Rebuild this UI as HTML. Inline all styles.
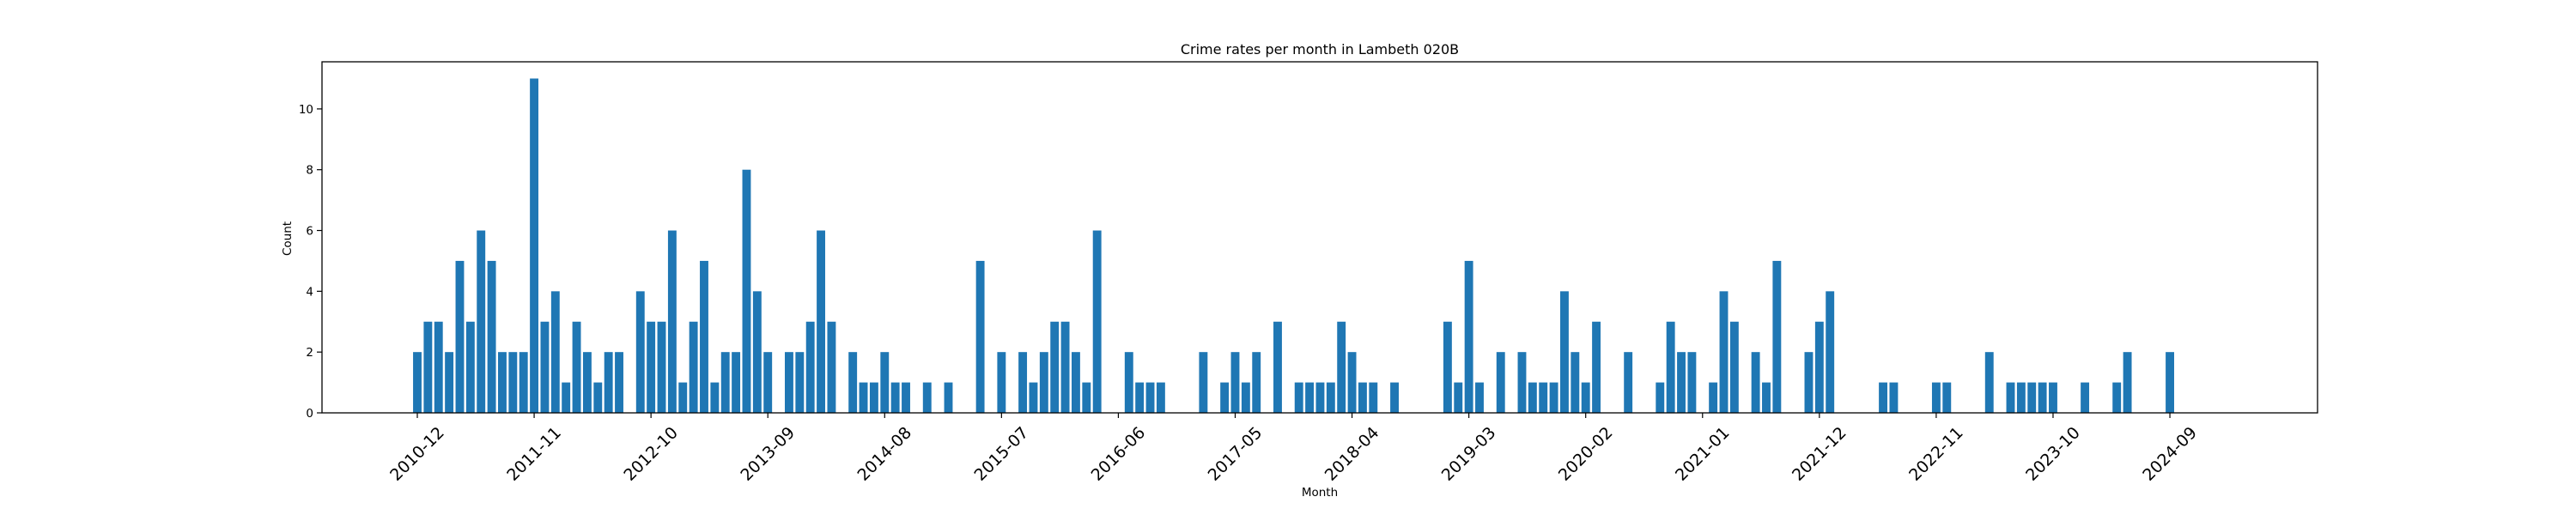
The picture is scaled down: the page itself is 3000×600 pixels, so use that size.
<!DOCTYPE html>
<html><head><meta charset="utf-8"><style>
html,body{margin:0;padding:0;background:#fff;}
svg{display:block;font-family:"DejaVu Sans","Liberation Sans",sans-serif;}
</style></head><body>
<svg id="chart" width="3000" height="600" viewBox="0 0 3000 600" xmlns="http://www.w3.org/2000/svg">
<rect x="0" y="0" width="3000" height="600" fill="#fff"/>
<text x="1537" y="63" font-size="16" text-anchor="middle" fill="#000">Crime rates per month in Lambeth 020B</text>
<g id="plot"></g>
<text x="1537" y="578" font-size="13.5" text-anchor="middle" fill="#000">Month</text>
<text x="0" y="0" font-size="13.5" text-anchor="middle" fill="#000" transform="translate(339,278) rotate(-90)">Count</text>
</svg>
<script>
// month index from 2010-12 (0) and crime counts
const monthIdx = [0,1,2,3,4,5,6,7,8,9,10,11,12,13,14,15,16,17,18,19,21,22,23,24,25,26,27,28,29,30,31,32,33,35,36,37,38,39,41,42,43,44,45,46,48,50,53,55,57,58,59,60,61,62,63,64,67,68,69,70,74,76,77,78,79,81,83,84,85,86,87,88,89,90,92,97,98,99,100,102,104,105,106,107,108,109,110,111,114,117,118,119,120,122,123,124,126,127,128,131,132,133,138,139,143,144,148,150,151,152,153,154,157,160,161,165];
const counts   = [2,3,3,2,5,3,6,5,2,2,2,11,3,4,1,3,2,1,2,2,4,3,3,6,1,3,5,1,2,2,8,4,2,2,2,3,6,3,2,1,1,2,1,1,1,1,5,2,2,1,2,3,3,2,1,6,2,1,1,1,2,1,2,1,2,3,1,1,1,1,3,2,1,1,1,3,1,5,1,2,2,1,1,1,4,2,1,3,2,1,3,2,2,1,4,3,2,1,5,2,3,4,1,1,1,1,2,1,1,1,1,1,1,1,2,2];
const tickIdx  = [0,11,22,33,44,55,66,77,88,99,110,121,132,143,154,165];
const tickLabels = ["2010-12","2011-11","2012-10","2013-09","2014-08","2015-07","2016-06","2017-05","2018-04","2019-03","2020-02","2021-01","2021-12","2022-11","2023-10","2024-09"];
const yTicks = [0,2,4,6,8,10];

const NS = "http://www.w3.org/2000/svg";
const L = 375, R = 2699, T = 72, B = 481;
const x0 = 486, step = 12.37;
const yMax = 11.55;
const xs = i => x0 + step * i;
const ys = v => B - (B - T) * v / yMax;
const plot = document.getElementById('plot');
function mk(tag, attrs){ const e = document.createElementNS(NS, tag); for (const k in attrs) e.setAttribute(k, attrs[k]); return e; }

counts.forEach((v, k) => {
  const w = step * 0.8;
  const r = mk('rect', {x: xs(monthIdx[k]) - w/2, y: ys(v), width: w, height: B - ys(v), fill: '#1f77b4'});
  
  
  plot.appendChild(r);
});

const frame = mk('rect', {x: L, y: T, width: R - L, height: B - T, fill: 'none', stroke: '#000', 'stroke-width': 1.3});


plot.appendChild(frame);

yTicks.forEach(t => {
  const y = ys(t);
  const ln = mk('line', {x1: L - 6, x2: L, y1: y, y2: y, stroke: '#000', 'stroke-width': 1.2});
  
  
  plot.appendChild(ln);
  const tx = mk('text', {x: L - 10, y: y + 5, 'font-size': 13.5, 'text-anchor': 'end', fill: '#000'});
  tx.textContent = t;
  
  
  plot.appendChild(tx);
});

tickIdx.forEach((i, k) => {
  const x = xs(i);
  const ln = mk('line', {x1: x, x2: x, y1: B, y2: B + 6, stroke: '#000', 'stroke-width': 1.2});
  
  
  plot.appendChild(ln);
  const tx = mk('text', {x: 0, y: 6, 'font-size': 19, 'text-anchor': 'middle', fill: '#000', transform: 'translate(' + x + ',529) rotate(-45)'});
  tx.textContent = tickLabels[k];
  
  
  plot.appendChild(tx);
});
</script>
</body></html>
